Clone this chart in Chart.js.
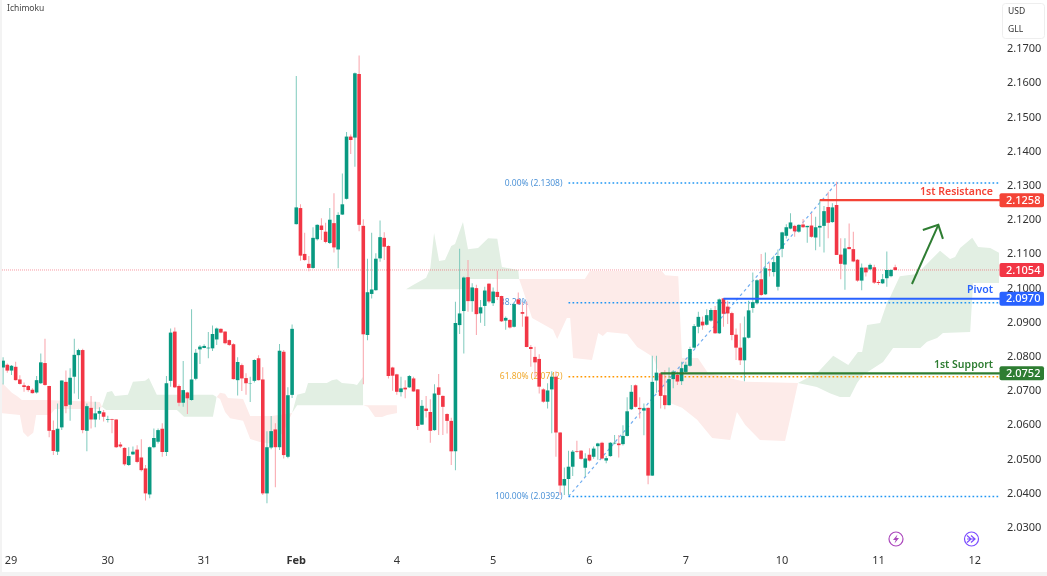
<!DOCTYPE html>
<html>
<head>
<meta charset="utf-8">
<title>Ichimoku</title>
<script src="https://cdn.jsdelivr.net/npm/chart.js@4"></script>
<style>
    html, body { margin: 0; padding: 0; background: #ffffff; overflow: hidden; }
    #wrap { position: relative; width: 1047px; height: 576px; }
    canvas { display: block; }
    .strip { position: absolute; background: #f3f3f3; }
</style>
</head>
<body>
<div id="wrap">
    <canvas id="chart" width="1047" height="576"></canvas>
    <div class="strip" style="left:0;top:0;width:2px;height:576px"></div>
    <div class="strip" style="left:0;top:572px;width:1047px;height:4px"></div>
</div>
<script>
const opens = [
    2.0769,2.0777,2.0760,2.0771,2.0734,2.0717,2.0715,2.0704,2.0696,2.0723,
    2.0782,2.0715,2.0586,2.0523,2.0594,2.0727,2.0660,2.0742,2.0805,2.0820,
    2.0584,2.0651,2.0617,2.0634,2.0638,2.0616,2.0618,2.0617,2.0544,2.0534,
    2.0484,2.0515,2.0529,2.0506,2.0474,2.0398,2.0536,2.0552,2.0590,2.0522,
    2.0730,2.0874,2.0715,2.0666,2.0696,2.0674,2.0736,2.0822,2.0826,2.0825,
    2.0825,2.0851,2.0882,2.0874,2.0849,2.0837,2.0732,2.0776,2.0738,2.0722,
    2.0730,2.0796,2.0734,2.0401,2.0535,2.0588,2.0536,2.0815,2.0508,2.0689,
    2.1188,2.1235,2.1101,2.1072,2.1060,2.1144,2.1184,2.1166,2.1133,2.1191,
    2.1114,2.1216,2.1262,2.1444,2.1441,2.1627,2.1183,2.0864,2.0984,2.0995,
    2.1088,2.1148,2.1124,2.0769,2.0749,2.0697,2.0710,2.0711,2.0737,2.0705,
    2.0602,2.0649,2.0639,2.0586,2.0711,2.0686,2.0633,2.0613,2.0524,2.0893,
    2.0934,2.1033,2.0963,2.1001,2.0927,2.0949,2.1014,2.0957,2.0990,2.0978,
    2.0906,2.0908,2.0888,2.0968,2.0931,2.0918,2.0829,2.0800,2.0794,2.0705,
    2.0669,2.0705,2.0742,2.0579,2.0424,2.0443,2.0479,2.0525,2.0526,2.0476,
    2.0514,2.0508,2.0539,2.0549,2.0497,2.0510,2.0547,2.0547,2.0545,2.0569,
    2.0647,2.0717,2.0651,2.0643,2.0651,2.0453,2.0731,2.0752,2.0688,2.0659,
    2.0735,2.0747,2.0729,2.0756,2.0774,2.0827,2.0888,2.0903,2.0894,2.0906,
    2.0937,2.0869,2.0971,2.0947,2.0928,2.0865,2.0827,2.0790,2.0856,2.0943,
    2.0957,2.1027,2.0983,2.1056,2.1048,2.1005,2.1116,2.1154,2.1175,2.1183,
    2.1166,2.1187,2.1179,2.1184,2.1149,2.1178,2.1183,2.1238,2.1194,2.1244,
    2.1099,2.1070,2.1121,2.1115,2.1084,2.1023,2.1061,2.1056,2.1062,2.1019,
    2.1015,2.1030,2.1036,2.1062
];
const highs = [
    2.0799,2.0781,2.0776,2.0786,2.0746,2.0725,2.0718,2.0708,2.0744,2.0810,
    2.0853,2.0716,2.0614,2.0664,2.0731,2.0760,2.0767,2.0853,2.0824,2.0824,
    2.0664,2.0686,2.0669,2.0653,2.0645,2.0628,2.0619,2.0618,2.0551,2.0536,
    2.0536,2.0538,2.0542,2.0559,2.0484,2.0538,2.0591,2.0591,2.0606,2.0744,
    2.0883,2.0886,2.0719,2.0788,2.0698,2.0939,2.0823,2.0835,2.0837,2.0873,
    2.0892,2.0886,2.0884,2.0875,2.0851,2.0840,2.0799,2.0781,2.0752,2.0742,
    2.0793,2.0805,2.0770,2.0583,2.0627,2.0606,2.0838,2.0820,2.0711,2.0895,
    2.1621,2.1246,2.1163,2.1095,2.1179,2.1188,2.1205,2.1192,2.1235,2.1278,
    2.1223,2.1336,2.1457,2.1450,2.1631,2.1681,2.1202,2.1087,2.1163,2.1103,
    2.1199,2.1164,2.1126,2.0771,2.0751,2.0742,2.0732,2.0747,2.0742,2.0706,
    2.0674,2.0686,2.0676,2.0720,2.0750,2.0687,2.0635,2.0622,2.0961,2.1116,
    2.1035,2.1083,2.1015,2.1011,2.0966,2.1005,2.1015,2.1003,2.1052,2.0979,
    2.0918,2.0910,2.0958,2.0988,2.0960,2.0961,2.0835,2.0830,2.0808,2.0708,
    2.0723,2.0758,2.0758,2.0580,2.0477,2.0526,2.0528,2.0555,2.0528,2.0518,
    2.0533,2.0538,2.0549,2.0552,2.0510,2.0551,2.0572,2.0572,2.0600,2.0682,
    2.0718,2.0719,2.0682,2.0664,2.0652,2.0803,2.0803,2.0754,2.0762,2.0769,
    2.0762,2.0757,2.0786,2.0786,2.0830,2.0896,2.0932,2.0918,2.0939,2.0942,
    2.0949,2.0971,2.0972,2.0964,2.0932,2.0883,2.0898,2.0918,2.0964,2.1047,
    2.1027,2.1101,2.1105,2.1075,2.1096,2.1114,2.1166,2.1188,2.1220,2.1186,
    2.1188,2.1203,2.1183,2.1220,2.1210,2.1259,2.1241,2.1283,2.1249,2.1312,
    2.1147,2.1147,2.1190,2.1166,2.1086,2.1073,2.1062,2.1073,2.1069,2.1025,
    2.1042,2.1108,2.1056,2.1069
];
const lows = [
    2.0719,2.0754,2.0747,2.0731,2.0719,2.0698,2.0698,2.0693,2.0693,2.0721,
    2.0716,2.0565,2.0513,2.0513,2.0586,2.0635,2.0613,2.0693,2.0677,2.0577,
    2.0524,2.0591,2.0594,2.0616,2.0611,2.0608,2.0577,2.0534,2.0534,2.0482,
    2.0481,2.0513,2.0489,2.0465,2.0380,2.0387,2.0533,2.0547,2.0508,2.0510,
    2.0713,2.0709,2.0656,2.0654,2.0633,2.0672,2.0732,2.0779,2.0825,2.0796,
    2.0817,2.0835,2.0869,2.0837,2.0832,2.0734,2.0687,2.0700,2.0689,2.0668,
    2.0725,2.0731,2.0396,2.0372,2.0530,2.0419,2.0528,2.0503,2.0504,2.0680,
    2.1187,2.1081,2.1081,2.1050,2.1058,2.1140,2.1142,2.1132,2.1130,2.1105,
    2.1059,2.1215,2.1260,2.1393,2.1356,2.1167,2.0720,2.0849,2.0971,2.0993,
    2.1078,2.1083,2.0737,2.0701,2.0689,2.0684,2.0679,2.0709,2.0698,2.0586,
    2.0601,2.0623,2.0549,2.0584,2.0572,2.0572,2.0576,2.0484,2.0469,2.0867,
    2.0810,2.0932,2.0932,2.0864,2.0900,2.0890,2.0957,2.0949,2.0966,2.0902,
    2.0879,2.0883,2.0886,2.0952,2.0888,2.0828,2.0771,2.0742,2.0693,2.0666,
    2.0649,2.0577,2.0508,2.0396,2.0396,2.0396,2.0452,2.0520,2.0499,2.0450,
    2.0494,2.0502,2.0499,2.0500,2.0489,2.0508,2.0545,2.0506,2.0541,2.0567,
    2.0645,2.0652,2.0620,2.0571,2.0428,2.0452,2.0695,2.0649,2.0647,2.0658,
    2.0708,2.0718,2.0718,2.0752,2.0771,2.0825,2.0869,2.0879,2.0892,2.0903,
    2.0868,2.0867,2.0888,2.0896,2.0849,2.0791,2.0776,2.0729,2.0854,2.0929,
    2.0953,2.0978,2.0981,2.1035,2.1035,2.0994,2.1091,2.1146,2.1173,2.1151,
    2.1163,2.1177,2.1134,2.1148,2.1112,2.1122,2.1105,2.1147,2.1192,2.1098,
    2.1027,2.0996,2.1115,2.1077,2.1020,2.0995,2.1035,2.1054,2.1013,2.1010,
    2.1013,2.1005,2.1033,2.1052
];
const closes = [
    2.0789,2.0760,2.0774,2.0732,2.0721,2.0712,2.0703,2.0694,2.0732,2.0784,
    2.0718,2.0584,2.0525,2.0590,2.0731,2.0656,2.0739,2.0806,2.0820,2.0586,
    2.0656,2.0617,2.0635,2.0642,2.0625,2.0618,2.0616,2.0536,2.0538,2.0486,
    2.0510,2.0523,2.0493,2.0469,2.0401,2.0536,2.0563,2.0586,2.0522,2.0723,
    2.0871,2.0711,2.0666,2.0703,2.0679,2.0734,2.0812,2.0830,2.0832,2.0827,
    2.0867,2.0883,2.0871,2.0840,2.0835,2.0735,2.0785,2.0737,2.0723,2.0723,
    2.0791,2.0732,2.0401,2.0536,2.0583,2.0536,2.0818,2.0513,2.0688,2.0882,
    2.1237,2.1096,2.1083,2.1060,2.1148,2.1186,2.1171,2.1136,2.1201,2.1120,
    2.1215,2.1246,2.1444,2.1434,2.1629,2.1186,2.0866,2.0989,2.0997,2.1087,
    2.1150,2.1122,2.0744,2.0745,2.0698,2.0708,2.0705,2.0744,2.0699,2.0598,
    2.0657,2.0642,2.0584,2.0693,2.0689,2.0654,2.0613,2.0524,2.0899,2.0927,
    2.1032,2.0963,2.1003,2.0925,2.0945,2.0994,2.0962,2.0991,2.0975,2.0904,
    2.0914,2.0886,2.0954,2.0955,2.0926,2.0829,2.0823,2.0784,2.0713,2.0669,
    2.0702,2.0742,2.0579,2.0424,2.0443,2.0479,2.0523,2.0523,2.0502,2.0503,
    2.0497,2.0532,2.0547,2.0503,2.0504,2.0549,2.0549,2.0542,2.0569,2.0641,
    2.0698,2.0654,2.0647,2.0650,2.0453,2.0727,2.0754,2.0686,2.0659,2.0735,
    2.0757,2.0728,2.0767,2.0777,2.0823,2.0890,2.0917,2.0892,2.0922,2.0937,
    2.0869,2.0968,2.0926,2.0927,2.0864,2.0827,2.0790,2.0857,2.0936,2.0960,
    2.1024,2.0981,2.1059,2.1053,2.1077,2.1095,2.1164,2.1179,2.1193,2.1167,
    2.1186,2.1179,2.1183,2.1151,2.1179,2.1183,2.1226,2.1192,2.1237,2.1098,
    2.1072,2.1117,2.1115,2.1079,2.1023,2.1061,2.1047,2.1069,2.1017,2.1016,
    2.1027,2.1054,2.1054,2.1054
];

// ichimoku cloud edges, [bar, price]
const redTopA = [[-0.74,2.0730],[2.1,2.0695],[3.3,2.0686],[4.5,2.0674],[10.5,2.0674],[23.1,2.0668],[23.6,2.0654]];
const redBotA = [[-0.74,2.0636],[4,2.0630],[4.8,2.0580],[5.9,2.0566],[7.2,2.0578],[7.9,2.0630],[11.2,2.0630],[12.4,2.0648],[23.1,2.0648],[23.6,2.0654]];
const greenTopA = [[23.6,2.0654],[24.8,2.0697],[26,2.0700],[26.7,2.0686],[29.8,2.0689],[31,2.0727],[33.9,2.0730],[34.8,2.0738],[36.7,2.0689],[50.1,2.0689],[51,2.0683]];
const greenBotA = [[23.6,2.0654],[24.6,2.0645],[41.5,2.0645],[43.2,2.0625],[50.1,2.0625],[51,2.0683]];
const redTopB = [[51,2.0683],[51.8,2.0695],[53,2.0692],[53.7,2.0680],[57.3,2.0677],[59,2.0627],[64.2,2.0627],[69,2.0636]];
const redBotB = [[51,2.0683],[51.8,2.0677],[53,2.0639],[54.2,2.0621],[57.3,2.0613],[59,2.0560],[61.3,2.0551],[64.9,2.0545],[67.3,2.0590],[69,2.0636]];
const greenTopB = [[69,2.0636],[70.2,2.0689],[72.1,2.0695],[72.8,2.0724],[77.3,2.0724],[78.5,2.0732],[79.7,2.0735],[80.9,2.0724],[83.6,2.0721],[84.5,2.0718],[85.9,2.0741],[86,2.0659]];
const greenBotB = [[69,2.0636],[70.2,2.0659],[86,2.0659]];
const redTopC = [[86,2.0659],[94,2.0659],[94.1,2.0636]];
const redBotC = [[86,2.0659],[87.1,2.0654],[88.8,2.0624],[90.5,2.0624],[91.7,2.0630],[94.1,2.0636]];
const greenTopC = [[96.2,2.0998],[97.9,2.1010],[101,2.1031],[102,2.1060],[102.9,2.1162],[104.1,2.1080],[105.5,2.1083],[107,2.1124],[107.9,2.1130],[109.8,2.1194],[111,2.1115],[113.4,2.1118],[115.8,2.1147],[118,2.1145],[119.1,2.1063],[123,2.1054],[123.2,2.1028]];
const greenBotC = [[96.2,2.0998],[109.8,2.0998],[110.3,2.1028],[123.2,2.1028]];
const redTopD = [[123.2,2.1028],[138.9,2.1028],[140.1,2.1051],[157.3,2.1051],[158.1,2.1039],[161.2,2.1036],[162.1,2.0797],[165.9,2.0797],[168.3,2.0753],[177.2,2.0727],[189.8,2.0724]];
const redBotD = [[123.2,2.1028],[124.1,2.0996],[126.3,2.0914],[131.3,2.0879],[132.3,2.0852],[134.6,2.0914],[135.4,2.0914],[136.1,2.0797],[140.6,2.0791],[142.1,2.0870],[143.2,2.0861],[144.2,2.0873],[149,2.0867],[151.4,2.0829],[155.2,2.0800],[159.2,2.0665],[162.1,2.0651],[165.7,2.0616],[169.3,2.0563],[173.6,2.0557],[175.2,2.0639],[177.2,2.0601],[180.7,2.0557],[186.7,2.0554],[187.9,2.0618],[189.8,2.0724]];
const greenTopD = [[189.8,2.0724],[194.6,2.0756],[198.2,2.0803],[201.8,2.0776],[204.1,2.0814],[205.1,2.0814],[206.3,2.0893],[209.4,2.0899],[211.1,2.0960],[211.8,2.0975],[214.1,2.1036],[218.2,2.1042],[223.7,2.1110],[226.1,2.1086],[227.3,2.1092],[228.5,2.1118],[231.4,2.1148],[232.8,2.1121],[235.7,2.1118],[237.8,2.1104]];
const greenBotD = [[189.8,2.0724],[194.3,2.0712],[197.4,2.0694],[199.8,2.0683],[202.2,2.0683],[203.9,2.0724],[205.3,2.0747],[210.1,2.0785],[212.5,2.0826],[219,2.0826],[220.6,2.0844],[223,2.0855],[224.4,2.0870],[230.9,2.0873],[231.6,2.1016],[237.8,2.1016]];

// drawings
const resistance = 2.1258;
const pivot = 2.0970;
const support = 2.0752;
const lastPrice = 2.1054;
const fibLevels = [2.1308, 2.0958, 2.0742, 2.0392];
const fibLabels = ['0.00% (2.1308)', '38.20% (2.0958)', '61.80% (2.0742)', '100.00% (2.0392)'];
const fibTrend = [[135, 2.0392], [199, 2.1308]];
const arrowShaft = [[217, 2.1013], [223.3, 2.1186]];
const arrowHead = [[219.6, 2.1171], [223.3, 2.1186], [224.4, 2.1145]];

// axes
const yTicks = [2.03,2.04,2.05,2.06,2.07,2.08,2.09,2.10,2.11,2.12,2.13,2.14,2.15,2.16,2.17];
const dayTicks = [1.9,25,48,70,94,117,140,163,186,209,232];
const dayLabels = ['29','30','31','Feb','4','5','6','7','10','11','12'];

const FONT = '"Noto Sans", sans-serif';
const GREEN = '#089981';
const RED = '#f23645';
const GREEN_WICK = '#7fcabd';
const RED_WICK = '#f9a3aa';
const CLOUD_GREEN = '#e2efe3';
const CLOUD_RED = '#fdebe9';

function pts(pairs) {
    return pairs.map(p => ({ x: p[0], y: p[1] }));
}

function cloud(top, bot, color) {
    return [
        { type: 'line', data: pts(top), fill: '+1', backgroundColor: color, borderWidth: 0, pointRadius: 0, tension: 0, order: 20 },
        { type: 'line', data: pts(bot), fill: false, borderWidth: 0, pointRadius: 0, tension: 0, order: 20 }
    ];
}

function level(from, price, color, width, dash, order) {
    return {
        type: 'line',
        data: [{ x: from, y: price }, { x: 238, y: price }],
        borderColor: color,
        borderWidth: width,
        borderDash: dash,
        pointRadius: 0,
        fill: false,
        order: order
    };
}

const isUp = opens.map((o, i) => closes[i] >= o);

const datasets = [
    ...cloud(redTopA, redBotA, CLOUD_RED),
    ...cloud(greenTopA, greenBotA, CLOUD_GREEN),
    ...cloud(redTopB, redBotB, CLOUD_RED),
    ...cloud(greenTopB, greenBotB, CLOUD_GREEN),
    ...cloud(redTopC, redBotC, CLOUD_RED),
    ...cloud(greenTopC, greenBotC, CLOUD_GREEN),
    ...cloud(redTopD, redBotD, CLOUD_RED),
    ...cloud(greenTopD, greenBotD, CLOUD_GREEN),
    level(-0.74, lastPrice, 'rgba(242,54,69,0.5)', 1, [1, 1], 15),
    level(135, fibLevels[0], '#2196f3', 1.5, [1.7, 2.3], 14),
    level(135, fibLevels[1], '#2196f3', 1.5, [1.7, 2.3], 14),
    level(135, fibLevels[2], '#ff9800', 1.5, [1.7, 2.3], 14),
    level(135, fibLevels[3], '#2196f3', 1.5, [1.7, 2.3], 14),
    {
        type: 'line',
        data: pts(fibTrend),
        borderColor: 'rgba(66,146,235,0.75)',
        borderWidth: 1.2,
        borderDash: [3, 3],
        pointRadius: 0,
        fill: false,
        order: 13
    },
    {
        type: 'bar',
        data: lows.map((l, i) => ({ x: i, y: [l, highs[i]] })),
        backgroundColor: isUp.map(u => u ? GREEN_WICK : RED_WICK),
        barThickness: 1,
        grouped: false,
        inflateAmount: 0,
        order: 6
    },
    {
        type: 'bar',
        data: opens.map((o, i) => ({ x: i, y: [o, closes[i]] })),
        backgroundColor: isUp.map(u => u ? GREEN : RED),
        barThickness: 3.6,
        grouped: false,
        inflateAmount: 0,
        order: 5
    },
    level(195, resistance, '#f44336', 2.2, [], 2),
    level(172, pivot, '#2962ff', 2.2, [], 2),
    level(157, support, '#2e7d32', 2.2, [], 2),
    { type: 'line', data: pts(arrowShaft), borderColor: '#2e7d32', borderWidth: 2, pointRadius: 0, fill: false, order: 1 },
    { type: 'line', data: pts(arrowHead), borderColor: '#2e7d32', borderWidth: 2, pointRadius: 0, fill: false, order: 1 }
];

function priceTag(ctx, yPx, text, color) {
    ctx.fillStyle = color;
    ctx.beginPath();
    ctx.roundRect(999.5, yPx - 7, 44.5, 14, 2);
    ctx.fill();
    ctx.fillStyle = '#ffffff';
    ctx.font = '500 11px ' + FONT;
    ctx.textAlign = 'left';
    ctx.textBaseline = 'middle';
    ctx.fillText(text, 1006, yPx + 0.5);
}

function rightText(ctx, yPx, text, color) {
    ctx.fillStyle = color;
    ctx.font = '600 10.5px ' + FONT;
    ctx.textAlign = 'right';
    ctx.textBaseline = 'middle';
    ctx.fillText(text, 993, yPx);
}

// fib captions sit under the candles
const underPlugin = {
    id: 'under',
    beforeDatasetsDraw(chart) {
        const ctx = chart.ctx;
        const y = chart.scales.y;
        const x = chart.scales.x;
        ctx.save();
        ctx.font = '8.5px ' + FONT;
        ctx.textAlign = 'right';
        ctx.textBaseline = 'middle';
        fibLabels.forEach((label, i) => {
            ctx.fillStyle = i === 2 ? '#f0a92e' : '#4f94d8';
            ctx.fillText(label, x.getPixelForValue(135) - 6, y.getPixelForValue(fibLevels[i]));
        });
        ctx.restore();
    }
};

const overPlugin = {
    id: 'over',
    afterDraw(chart) {
        const ctx = chart.ctx;
        const y = chart.scales.y;
        ctx.save();

        ctx.fillStyle = '#444444';
        ctx.font = '8.5px ' + FONT;
        ctx.textAlign = 'left';
        ctx.textBaseline = 'middle';
        ctx.fillText('Ichimoku', 7, 9);

        ctx.fillStyle = '#ffffff';
        ctx.strokeStyle = '#eeeeee';
        ctx.lineWidth = 1;
        ctx.beginPath();
        ctx.roundRect(1002.5, 3.5, 42, 35, 3);
        ctx.fill();
        ctx.stroke();
        ctx.fillStyle = '#333333';
        ctx.font = '8.5px ' + FONT;
        ctx.fillText('USD', 1008, 12);
        ctx.fillText('GLL', 1008, 30);

        rightText(ctx, y.getPixelForValue(resistance) - 8.5, '1st Resistance', '#f44336');
        rightText(ctx, y.getPixelForValue(pivot) - 8.5, 'Pivot', '#2962ff');
        rightText(ctx, y.getPixelForValue(support) - 8.5, '1st Support', '#2e7d32');

        priceTag(ctx, y.getPixelForValue(resistance), resistance.toFixed(4), '#f44336');
        priceTag(ctx, y.getPixelForValue(lastPrice), lastPrice.toFixed(4), RED);
        priceTag(ctx, y.getPixelForValue(pivot), pivot.toFixed(4), '#2962ff');
        priceTag(ctx, y.getPixelForValue(support), support.toFixed(4), '#2e7d32');

        // event markers on the time axis
        ctx.lineWidth = 1.2;
        ctx.strokeStyle = '#ab47bc';
        ctx.beginPath();
        ctx.arc(896, 539, 7, 0, Math.PI * 2);
        ctx.stroke();
        ctx.fillStyle = '#ab47bc';
        ctx.beginPath();
        ctx.moveTo(897.5, 534.5);
        ctx.lineTo(893, 540);
        ctx.lineTo(895.7, 540);
        ctx.lineTo(894.5, 543.5);
        ctx.lineTo(899, 538);
        ctx.lineTo(896.3, 538);
        ctx.closePath();
        ctx.fill();

        ctx.strokeStyle = '#7c4dff';
        ctx.beginPath();
        ctx.arc(971.5, 539, 7, 0, Math.PI * 2);
        ctx.stroke();
        ctx.beginPath();
        ctx.moveTo(967, 535.5);
        ctx.lineTo(971, 539);
        ctx.lineTo(967, 542.5);
        ctx.moveTo(971, 535.5);
        ctx.lineTo(975, 539);
        ctx.lineTo(971, 542.5);
        ctx.moveTo(967, 539);
        ctx.lineTo(975, 539);
        ctx.stroke();

        ctx.restore();
    }
};

new Chart(document.getElementById('chart').getContext('2d'), {
    data: { datasets: datasets },
    plugins: [underPlugin, overPlugin],
    options: {
        responsive: false,
        animation: false,
        layout: { padding: 0 },
        plugins: {
            legend: { display: false },
            tooltip: { enabled: false }
        },
        scales: {
            x: {
                type: 'linear',
                offset: false,
                min: -0.74,
                max: 238.5,
                grid: { display: false, drawTicks: false, tickLength: 0 },
                border: { display: false },
                afterBuildTicks: scale => {
                    scale.ticks = dayTicks.map(v => ({ value: v }));
                },
                afterFit: scale => {
                    scale.height = 28;
                    scale.paddingLeft = 0;
                    scale.paddingRight = 0;
                },
                ticks: {
                    color: '#333333',
                    padding: 6,
                    maxRotation: 0,
                    autoSkip: false,
                    font: ctx => ({
                        family: FONT,
                        size: 11,
                        weight: ctx.tick && ctx.tick.value === 70 ? 700 : 400
                    }),
                    callback: value => dayLabels[dayTicks.indexOf(value)]
                }
            },
            y: {
                position: 'right',
                min: 2.02414,
                max: 2.18432,
                grid: { display: false, drawTicks: false, tickLength: 0 },
                border: { display: false },
                afterBuildTicks: scale => {
                    scale.ticks = yTicks.map(v => ({ value: v }));
                },
                afterFit: scale => {
                    scale.width = 45;
                    scale.paddingTop = 0;
                    scale.paddingBottom = 0;
                },
                ticks: {
                    color: '#333333',
                    padding: 5,
                    autoSkip: false,
                    font: { family: FONT, size: 11 },
                    callback: value => value.toFixed(4)
                }
            }
        }
    }
});
</script>
</body>
</html>
